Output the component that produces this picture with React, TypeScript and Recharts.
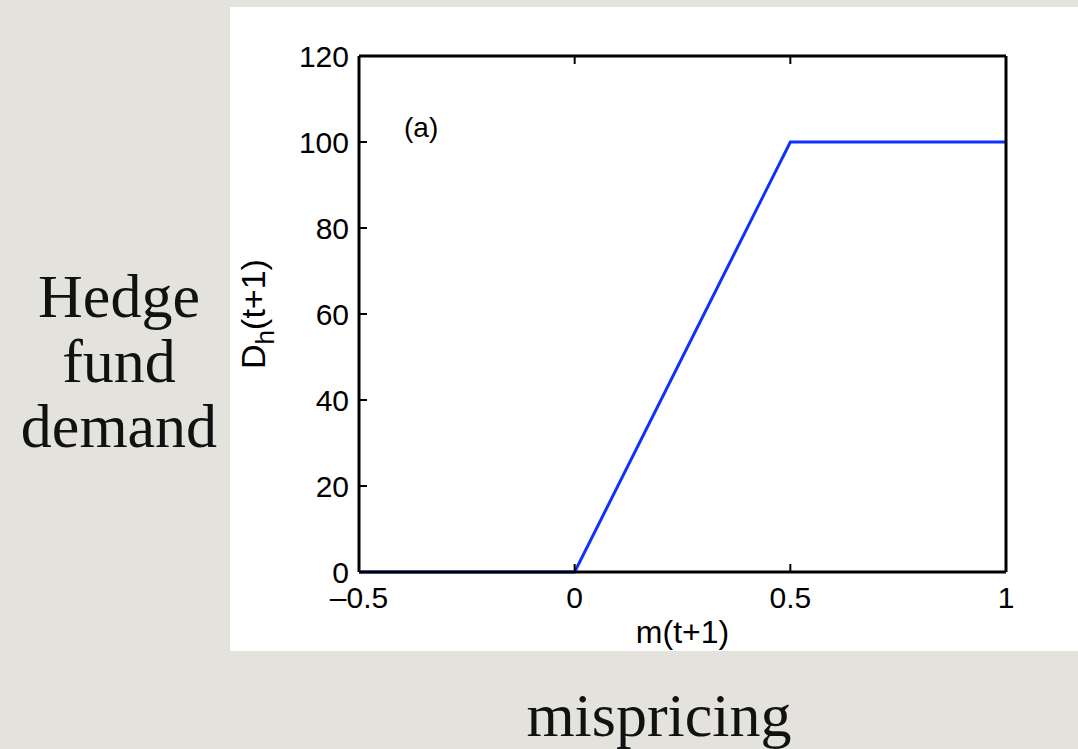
import { LineChart, Line, XAxis, YAxis, ReferenceDot } from "recharts";

// hedge fund demand as a function of mispricing
const mispricing = [-0.5, 0, 0.5, 1];
const hedgeDemand = [0, 0, 100, 100];

const xTicks = [-0.5, 0, 0.5, 1];
const yTicks = [0, 20, 40, 60, 80, 100, 120];

const data = mispricing.map((m, i) => ({ m, demand: hedgeDemand[i] }));

const SANS = "'Liberation Sans', Arial, Helvetica, sans-serif";
const SERIF = "'Liberation Serif', 'Times New Roman', serif";

const TICK_LEN = 8;
const X_MARGIN = 15;
const Y_MARGIN = 10;

const fmtX = (v: number) => (v < 0 ? "\u2013" + Math.abs(v) : String(v));

// matlab-style ticks: short marks pointing into the plot box
const BottomTick = (props: any) => {
  const { x, y, payload } = props;
  const axisY = y - X_MARGIN;
  return (
    <g>
      <line x1={x} x2={x} y1={axisY} y2={axisY - TICK_LEN} stroke="#000" strokeWidth={2} />
      <text
        x={x}
        y={y + 21}
        textAnchor="middle"
        fontFamily={SANS}
        fontSize={30}
        fill="#000"
      >
        {fmtX(payload.value)}
      </text>
    </g>
  );
};

const LeftTick = (props: any) => {
  const { x, y, payload } = props;
  const axisX = x + Y_MARGIN;
  return (
    <g>
      <line x1={axisX} x2={axisX + TICK_LEN} y1={y} y2={y} stroke="#000" strokeWidth={2} />
      <text
        x={x}
        y={y + 10.5}
        textAnchor="end"
        fontFamily={SANS}
        fontSize={30}
        fill="#000"
      >
        {payload.value}
      </text>
    </g>
  );
};

const TopTick = (props: any) => {
  const { x, y } = props;
  return <line x1={x} x2={x} y1={y} y2={y + TICK_LEN} stroke="#000" strokeWidth={2} />;
};

const RightTick = (props: any) => {
  const { x, y } = props;
  return <line x1={x} x2={x - TICK_LEN} y1={y} y2={y} stroke="#000" strokeWidth={2} />;
};

const YLabel = (props: any) => {
  const vb = props.viewBox || {};
  const x = vb.x + 35;
  const y = vb.y + vb.height / 2;
  return (
    <text
      x={x}
      y={y}
      transform={`rotate(-90, ${x}, ${y})`}
      textAnchor="middle"
      fontFamily={SANS}
      fontSize={34}
      fill="#000"
    >
      <tspan>D</tspan>
      <tspan dy={9} fontSize={26}>h</tspan>
      <tspan dy={-9}>(t+1)</tspan>
    </text>
  );
};

const App = () => {
  return (
    <div
      style={{
        position: "absolute",
        left: 0,
        top: 0,
        width: 1078,
        height: 749,
        background: "#e4e2dd",
        overflow: "hidden",
      }}
    >
      <svg
        width={1078}
        height={749}
        style={{ position: "absolute", left: 0, top: 0 }}
      >
        <g fontFamily={SERIF} fontSize={62} fill="#111" textAnchor="middle">
          <text x={119} y={317}>Hedge</text>
          <text x={119} y={382}>fund</text>
          <text x={119} y={447}>demand</text>
          <text x={659} y={736}>mispricing</text>
        </g>
      </svg>

      <div
        style={{
          position: "absolute",
          left: 230,
          top: 7,
          width: 848,
          height: 644,
          background: "#fff",
        }}
      >
        <LineChart
          width={848}
          height={644}
          data={data}
          margin={{ top: 48, right: 71, left: 0, bottom: 0 }}
        >
          <XAxis
            dataKey="m"
            type="number"
            domain={[-0.5, 1]}
            ticks={xTicks}
            height={79}
            tickSize={0}
            tickMargin={X_MARGIN}
            stroke="#000"
            strokeWidth={3}
            tickLine={false}
            tick={<BottomTick />}
            label={{
              value: "m(t+1)",
              position: "insideBottom",
              offset: 8,
              style: { fontFamily: SANS, fontSize: 32, fill: "#000" },
            }}
          />
          <XAxis
            xAxisId="top"
            orientation="top"
            dataKey="m"
            type="number"
            domain={[-0.5, 1]}
            ticks={xTicks}
            height={1}
            tickSize={0}
            tickMargin={0}
            stroke="#000"
            strokeWidth={3}
            tickLine={false}
            tick={<TopTick />}
          />
          <YAxis
            type="number"
            domain={[0, 120]}
            ticks={yTicks}
            width={129}
            tickSize={0}
            tickMargin={Y_MARGIN}
            stroke="#000"
            strokeWidth={3}
            tickLine={false}
            tick={<LeftTick />}
            label={<YLabel />}
          />
          <YAxis
            yAxisId="right"
            orientation="right"
            type="number"
            domain={[0, 120]}
            ticks={yTicks}
            width={1}
            tickSize={0}
            tickMargin={0}
            stroke="#000"
            strokeWidth={3}
            tickLine={false}
            tick={<RightTick />}
          />
          <Line
            type="linear"
            dataKey="demand"
            stroke="#1030ff"
            strokeWidth={3}
            dot={false}
            isAnimationActive={false}
          />
          <ReferenceDot
            x={-0.356}
            y={103.5}
            r={0}
            label={{
              value: "(a)",
              position: "center",
              style: { fontFamily: SANS, fontSize: 28, fill: "#000" },
            }}
          />
        </LineChart>
      </div>
    </div>
  );
};

export default App;
